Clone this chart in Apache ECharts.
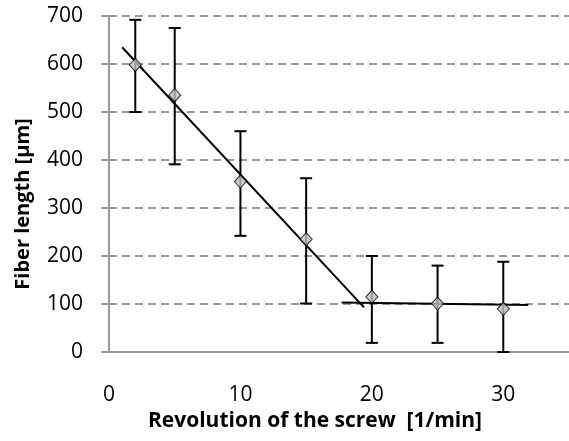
<!DOCTYPE html>
<html>
<head>
<meta charset="utf-8">
<script src="https://cdn.jsdelivr.net/npm/echarts@6/dist/echarts.min.js"></script>
<style>
  html, body { margin: 0; padding: 0; background: #fff; }
  #chart { width: 569px; height: 441px; }
</style>
</head>
<body>
<div id="chart"></div>
<script>
// screw speed [1/min]
var xValues = [2, 5, 10, 15, 20, 25, 30];
// mean fiber length [µm]
var meanLength = [598, 535, 355, 235, 115, 101, 90];
var errLow = [500, 391, 242, 101, 19, 19, 0];
var errHigh = [692, 675, 460, 362, 200, 180, 188];
// trend lines, end points
var trendA = [[1.0, 635], [19.4, 93]];
var trendB = [[17.7, 103], [31.9, 98]];

var FONT = 'Open Sans';
var chart = echarts.init(document.getElementById('chart'));

var points = [];
var bars = [];
for (var i = 0; i < xValues.length; i++) {
  points.push([xValues[i], meanLength[i]]);
  bars.push([xValues[i], errLow[i], errHigh[i]]);
}

function renderErrorBar(params, api) {
  var lo = api.coord([api.value(0), api.value(1)]);
  var hi = api.coord([api.value(0), api.value(2)]);
  var half = 6;
  var style = { stroke: '#000', lineWidth: 2 };
  return {
    type: 'group',
    children: [
      { type: 'line', shape: { x1: lo[0], y1: lo[1], x2: hi[0], y2: hi[1] }, style: style },
      { type: 'line', shape: { x1: hi[0] - half, y1: hi[1], x2: hi[0] + half, y2: hi[1] }, style: style },
      { type: 'line', shape: { x1: lo[0] - half, y1: lo[1], x2: lo[0] + half, y2: lo[1] }, style: style }
    ]
  };
}

var option = {
  animation: false,
  backgroundColor: '#fff',
  grid: { left: 109, top: 16, right: -4, bottom: 89, containLabel: false },
  xAxis: {
    type: 'value',
    min: 0,
    max: 35,
    interval: 10,
    name: 'Revolution of the screw  [1/min]',
    nameLocation: 'middle',
    nameGap: 54,
    nameTextStyle: { fontFamily: FONT, fontSize: 21, fontWeight: 'bold', color: '#000', padding: [0, 48, 0, 0] },
    axisLine: { show: true, lineStyle: { color: '#999', width: 2 } },
    axisTick: { show: false },
    axisLabel: { margin: 33, fontFamily: FONT, fontSize: 21, color: '#000', showMaxLabel: false },
    splitLine: { show: false }
  },
  yAxis: {
    type: 'value',
    min: 0,
    max: 700,
    interval: 100,
    name: 'Fiber length [µm]',
    nameLocation: 'middle',
    nameRotate: 90,
    nameGap: 76,
    nameTextStyle: { fontFamily: FONT, fontSize: 20, fontWeight: 'bold', color: '#000', padding: [0, 40, 0, 0] },
    axisLine: { show: true, lineStyle: { color: '#999', width: 2 } },
    axisTick: { show: true, length: 8, lineStyle: { color: '#999', width: 2 } },
    axisLabel: { margin: 26, fontFamily: FONT, fontSize: 21, color: '#000' },
    splitLine: { show: true, lineStyle: { color: '#999', width: 2, type: [8, 5] } }
  },
  series: [
    {
      type: 'custom',
      renderItem: renderErrorBar,
      data: bars,
      encode: { x: 0, y: [1, 2] },
      z: 2
    },
    {
      type: 'line',
      data: trendA,
      symbol: 'none',
      lineStyle: { color: '#000', width: 2 },
      z: 3
    },
    {
      type: 'line',
      data: trendB,
      symbol: 'none',
      lineStyle: { color: '#000', width: 2 },
      z: 3
    },
    {
      type: 'scatter',
      data: points,
      symbol: 'diamond',
      symbolSize: [12, 13],
      itemStyle: { color: '#bfbfbf', borderColor: '#000', borderWidth: 1 },
      z: 4
    }
  ]
};

chart.setOption(option);
</script>
</body>
</html>
